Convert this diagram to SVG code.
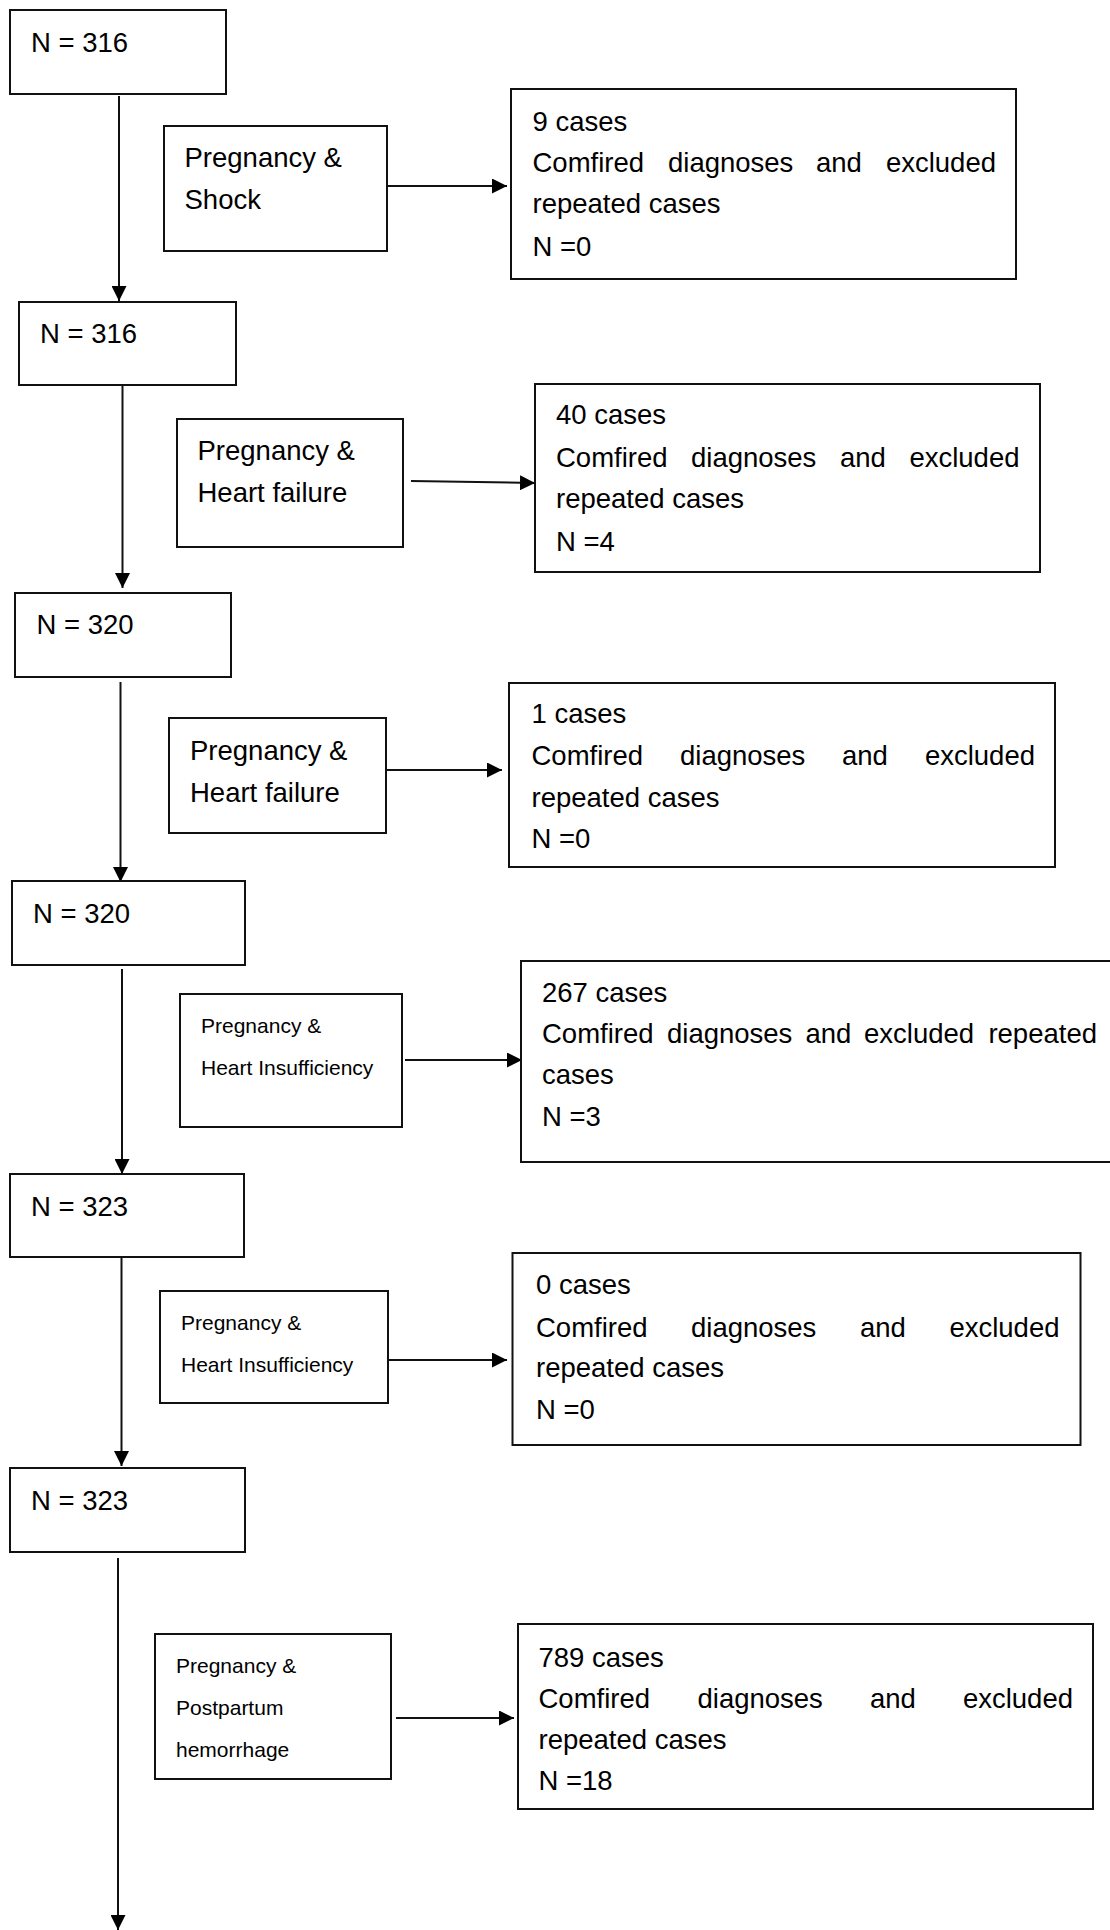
<svg xmlns="http://www.w3.org/2000/svg" width="1110" height="1930" viewBox="0 0 1110 1930">
<style>
  .box { fill: #ffffff; stroke: #111111; stroke-width: 2; }
  .t { font-family: "Liberation Sans", Arial, sans-serif; font-size: 27.5px; fill: #000000; }
  .s { font-family: "Liberation Sans", Arial, sans-serif; font-size: 21px; fill: #000000; }
  .e { text-anchor: end; }
  .c { fill: none; stroke: #111111; stroke-width: 2; marker-end: url(#ah); }
</style>
<defs>
  <marker id="ah" markerUnits="userSpaceOnUse" markerWidth="15" markerHeight="15" refX="15" refY="7.5" orient="auto">
    <path d="M0,0 L15,7.5 L0,15 Z" fill="#000000"/>
  </marker>
</defs>
<rect width="1110" height="1930" fill="#ffffff"/>

<g id="connectors">
  <line class="c" x1="119" y1="96" x2="119" y2="301"/>
  <line class="c" x1="388" y1="186" x2="507" y2="186"/>
  <line class="c" x1="122.5" y1="381" x2="122.5" y2="588"/>
  <line class="c" x1="411" y1="481" x2="535" y2="483"/>
  <line class="c" x1="120.5" y1="682" x2="120.5" y2="882"/>
  <line class="c" x1="383" y1="770" x2="502" y2="770"/>
  <line class="c" x1="122" y1="969" x2="122" y2="1174"/>
  <line class="c" x1="405" y1="1060" x2="522" y2="1060"/>
  <line class="c" x1="121.5" y1="1258" x2="121.5" y2="1466"/>
  <line class="c" x1="388" y1="1360" x2="507" y2="1360"/>
  <line class="c" x1="118" y1="1558" x2="118" y2="1930"/>
  <line class="c" x1="396" y1="1718" x2="514" y2="1718"/>
</g>

<g id="n1">
  <rect class="box" x="10" y="10" width="216" height="84"/>
  <text class="t" x="31" y="52">N = 316</text>
</g>
<g id="shock">
  <rect class="box" x="164" y="126" width="223" height="125"/>
  <text class="t" x="184.5" y="167">Pregnancy &amp;</text>
  <text class="t" x="184.5" y="209">Shock</text>
</g>
<g id="r1">
  <rect class="box" x="511" y="89" width="505" height="190"/>
  <text class="t" x="532.5" y="131">9 cases</text>
  <text class="t" x="532.5" y="172">Comfired</text>
  <text class="t" x="668" y="172">diagnoses</text>
  <text class="t" x="816" y="172">and</text>
  <text class="t e" x="996" y="172">excluded</text>
  <text class="t" x="532.5" y="213">repeated cases</text>
  <text class="t" x="532.5" y="256">N =0</text>
</g>

<g id="n2">
  <rect class="box" x="19" y="302" width="217" height="83"/>
  <text class="t" x="40" y="343">N = 316</text>
</g>
<g id="hf1">
  <rect class="box" x="177" y="419" width="226" height="128"/>
  <text class="t" x="197.5" y="460">Pregnancy &amp;</text>
  <text class="t" x="197.5" y="502">Heart failure</text>
</g>
<g id="r2">
  <rect class="box" x="535" y="384" width="505" height="188"/>
  <text class="t" x="556" y="424">40 cases</text>
  <text class="t" x="556" y="467">Comfired</text>
  <text class="t" x="691" y="467">diagnoses</text>
  <text class="t" x="840" y="467">and</text>
  <text class="t e" x="1019.5" y="467">excluded</text>
  <text class="t" x="556" y="508">repeated cases</text>
  <text class="t" x="556" y="551">N =4</text>
</g>

<g id="n3">
  <rect class="box" x="15" y="593" width="216" height="84"/>
  <text class="t" x="36.5" y="634">N = 320</text>
</g>
<g id="hf2">
  <rect class="box" x="169" y="718" width="217" height="115"/>
  <text class="t" x="190" y="760">Pregnancy &amp;</text>
  <text class="t" x="190" y="802">Heart failure</text>
</g>
<g id="r3">
  <rect class="box" x="509" y="683" width="546" height="184"/>
  <text class="t" x="531.5" y="723">1 cases</text>
  <text class="t" x="531.5" y="765">Comfired</text>
  <text class="t" x="680" y="765">diagnoses</text>
  <text class="t" x="842" y="765">and</text>
  <text class="t e" x="1035" y="765">excluded</text>
  <text class="t" x="531.5" y="807">repeated cases</text>
  <text class="t" x="531.5" y="848">N =0</text>
</g>

<g id="n4">
  <rect class="box" x="12" y="881" width="233" height="84"/>
  <text class="t" x="33" y="923">N = 320</text>
</g>
<g id="hi1">
  <rect class="box" x="180" y="994" width="222" height="133"/>
  <text class="s" x="201" y="1033">Pregnancy &amp;</text>
  <text class="s" x="201" y="1075">Heart Insufficiency</text>
</g>
<g id="r4">
  <rect class="box" x="521" y="961" width="600" height="201"/>
  <text class="t" x="542" y="1002">267 cases</text>
  <text class="t" x="542" y="1043">Comfired</text>
  <text class="t" x="667" y="1043">diagnoses</text>
  <text class="t" x="805.5" y="1043">and</text>
  <text class="t" x="864" y="1043">excluded</text>
  <text class="t e" x="1097" y="1043">repeated</text>
  <text class="t" x="542" y="1084">cases</text>
  <text class="t" x="542" y="1126">N =3</text>
</g>

<g id="n5">
  <rect class="box" x="10" y="1174" width="234" height="83"/>
  <text class="t" x="31" y="1216">N = 323</text>
</g>
<g id="hi2">
  <rect class="box" x="160" y="1291" width="228" height="112"/>
  <text class="s" x="181" y="1330">Pregnancy &amp;</text>
  <text class="s" x="181" y="1372">Heart Insufficiency</text>
</g>
<g id="r5">
  <rect class="box" x="512.5" y="1253" width="568" height="192"/>
  <text class="t" x="536" y="1294">0 cases</text>
  <text class="t" x="536" y="1337">Comfired</text>
  <text class="t" x="691" y="1337">diagnoses</text>
  <text class="t" x="860" y="1337">and</text>
  <text class="t e" x="1059.5" y="1337">excluded</text>
  <text class="t" x="536" y="1377">repeated cases</text>
  <text class="t" x="536" y="1419">N =0</text>
</g>

<g id="n6">
  <rect class="box" x="10" y="1468" width="235" height="84"/>
  <text class="t" x="31" y="1510">N = 323</text>
</g>
<g id="pph">
  <rect class="box" x="155" y="1634" width="236" height="145"/>
  <text class="s" x="176" y="1673">Pregnancy &amp;</text>
  <text class="s" x="176" y="1715">Postpartum</text>
  <text class="s" x="176" y="1757">hemorrhage</text>
</g>
<g id="r6">
  <rect class="box" x="518" y="1624" width="575" height="185"/>
  <text class="t" x="538.5" y="1667">789 cases</text>
  <text class="t" x="538.5" y="1708">Comfired</text>
  <text class="t" x="697.5" y="1708">diagnoses</text>
  <text class="t" x="870" y="1708">and</text>
  <text class="t e" x="1073" y="1708">excluded</text>
  <text class="t" x="538.5" y="1749">repeated cases</text>
  <text class="t" x="538.5" y="1790">N =18</text>
</g>
</svg>
